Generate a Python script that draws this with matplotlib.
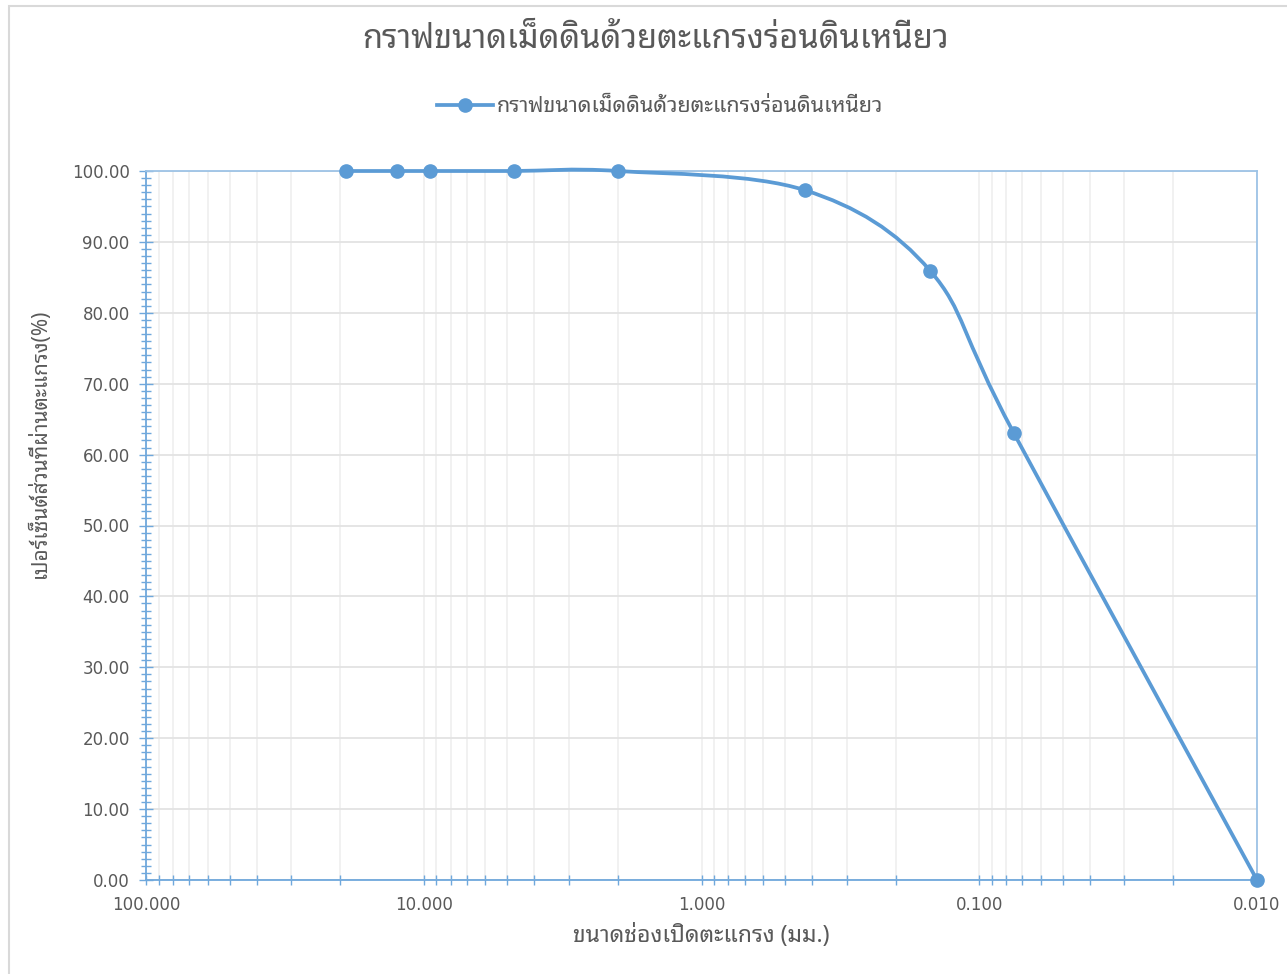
import matplotlib

matplotlib.use("Agg")
import matplotlib.pyplot as plt
import numpy as np
from matplotlib.lines import Line2D
from matplotlib.patches import PathPatch, Rectangle
from matplotlib.path import Path
from matplotlib.ticker import FixedLocator, FuncFormatter, LogLocator, MultipleLocator

plt.rcParams["font.family"] = ["DejaVu Sans", "Noto Sans Thai Looped", "Loma"]

# Sieve openings (mm) and percent passing
sieve_mm = [19.0, 12.5, 9.5, 4.75, 2.0, 0.425, 0.150, 0.075, 0.010]
percent_passing = [100.0, 100.0, 100.0, 100.0, 100.0, 97.3, 85.9, 63.0, 0.0]

title = "กราฟขนาดเม็ดดินด้วยตะแกรงร่อนดินเหนียว"
series_name = "กราฟขนาดเม็ดดินด้วยตะแกรงร่อนดินเหนียว"
x_label = "ขนาดช่องเปิดตะแกรง (มม.)"
y_label = "เปอร์เซ็นต์ส่วนที่ผ่านตะแกรง(%)"

LINE_BLUE = "#5B9BD5"
AXIS_BLUE = "#6FA8DC"
TEXT_GREY = "#595959"
THAI_FONT = ["Noto Sans Thai Looped", "Loma", "DejaVu Sans"]


def smooth_path(xs, ys):
    """Cubic Bezier path through the points (Catmull-Rom style, log-x space)."""
    lx = np.log10(np.asarray(xs, dtype=float))
    ly = np.asarray(ys, dtype=float)
    pts = np.column_stack([lx, ly])
    n = len(pts)
    verts = [pts[0]]
    codes = [Path.MOVETO]
    for i in range(n - 1):
        p0 = pts[i - 1] if i > 0 else pts[i]
        p1 = pts[i]
        p2 = pts[i + 1]
        p3 = pts[i + 2] if i + 2 < n else pts[i + 1]
        c1 = p1 + (p2 - p0) / 6.0
        c2 = p2 - (p3 - p1) / 6.0
        verts.extend([c1, c2, p2])
        codes.extend([Path.CURVE4] * 3)
    verts = np.array(verts)
    verts[:, 0] = 10 ** verts[:, 0]
    return Path(verts, codes)


fig = plt.figure(figsize=(12.87, 9.74), dpi=100)
ax = fig.add_axes([146 / 1287, 1 - 880 / 974, (1257 - 146) / 1287, (880 - 171) / 974])

# chart frame
fig.patches.append(
    Rectangle((9 / 1287, -0.1), 1.2, 1 - 6 / 974 + 0.1, transform=fig.transFigure,
              fill=False, edgecolor="#D9D9D9", linewidth=1.5)
)

ax.set_xscale("log")
ax.set_xlim(100, 0.01)
ax.set_ylim(0, 100)

curve = PathPatch(smooth_path(sieve_mm, percent_passing), facecolor="none",
                  edgecolor=LINE_BLUE, linewidth=2.7, capstyle="round",
                  joinstyle="round", clip_on=False, zorder=3)
ax.add_patch(curve)
ax.plot(sieve_mm, percent_passing, linestyle="none", marker="o", markersize=9.5,
        color=LINE_BLUE, clip_on=False, zorder=4)

# axes
ax.xaxis.set_major_locator(FixedLocator([100, 10, 1, 0.1, 0.01]))
ax.xaxis.set_minor_locator(LogLocator(base=10, subs=np.arange(2, 10), numticks=20))
ax.xaxis.set_major_formatter(FuncFormatter(lambda v, _: f"{v:.3f}"))
ax.xaxis.set_minor_formatter(FuncFormatter(lambda v, _: ""))
ax.yaxis.set_major_locator(MultipleLocator(10))
ax.yaxis.set_minor_locator(MultipleLocator(1))
ax.yaxis.set_major_formatter(FuncFormatter(lambda v, _: f"{v:.2f}"))

ax.grid(True, axis="y", which="major", color="#E3E3E3", linewidth=1.3)
ax.grid(True, axis="x", which="both", color="#F0F0F0", linewidth=1.3)
ax.set_axisbelow(True)

for side in ["left", "bottom"]:
    ax.spines[side].set_color(AXIS_BLUE)
    ax.spines[side].set_linewidth(1.3)
for side in ["top", "right"]:
    ax.spines[side].set_color("#9DC3E6")
    ax.spines[side].set_linewidth(1.3)

ax.tick_params(axis="both", which="both", direction="inout", color=AXIS_BLUE,
               width=1.0, labelcolor=TEXT_GREY, labelsize=12)
ax.tick_params(axis="y", which="major", length=9.5, pad=7)
ax.tick_params(axis="y", which="minor", length=7)
ax.tick_params(axis="x", which="major", length=7, pad=8)
ax.tick_params(axis="x", which="minor", length=7)

ax.set_xlabel(x_label, fontsize=16.5, color=TEXT_GREY, labelpad=7, family=THAI_FONT)
ax.set_ylabel(y_label, fontsize=15, color=TEXT_GREY, family=THAI_FONT)
ax.yaxis.set_label_coords(-0.086, 0.616)

fig.text(656 / 1287, 1 - 40 / 974, title, ha="center", va="center",
         fontsize=23.5, color=TEXT_GREY, family=THAI_FONT)

handle = Line2D([], [], color=LINE_BLUE, linewidth=2.7, marker="o", markersize=9.5)
fig.legend([handle], [series_name], loc="center", bbox_to_anchor=(660 / 1287, 1 - 107 / 974),
           frameon=False, handlelength=2.6, handletextpad=0.15,
           prop={"family": THAI_FONT, "size": 15.5}, labelcolor=TEXT_GREY)

fig.savefig("out.png", dpi=100)
